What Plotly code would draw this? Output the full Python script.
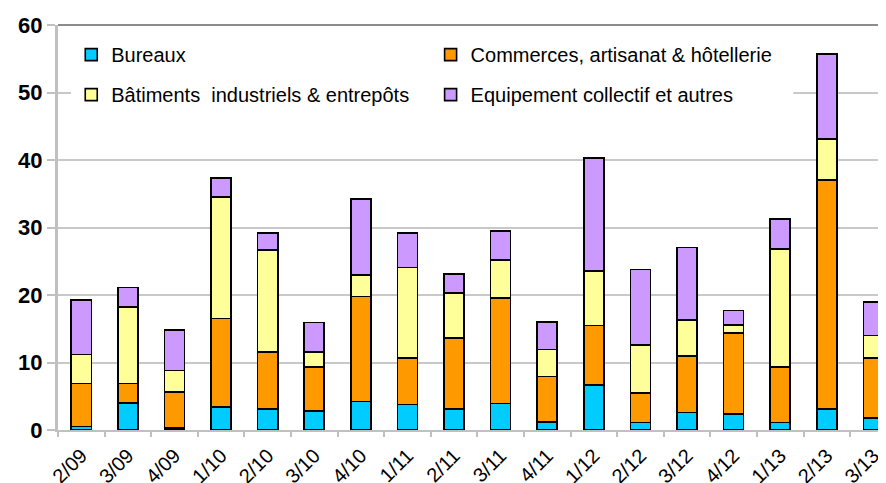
import plotly.graph_objects as go

categories = ["2/09", "3/09", "4/09", "1/10", "2/10", "3/10", "4/10", "1/11", "2/11",
              "3/11", "4/11", "1/12", "2/12", "3/12", "4/12", "1/13", "2/13", "3/13"]
bureaux = [0.5, 4.0, 0.3, 3.4, 3.1, 2.8, 4.2, 3.75, 3.1, 3.95, 1.2, 6.65, 1.1, 2.6, 2.4, 1.1, 3.1, 1.8]
commerces = [6.4, 2.9, 5.3, 13.1, 8.5, 6.5, 15.6, 6.9, 10.5, 15.6, 6.7, 8.85, 4.4, 8.35, 12.0, 8.25, 33.9, 8.9]
batiments = [4.3, 11.3, 3.2, 18.0, 15.1, 2.3, 3.2, 13.4, 6.7, 5.65, 4.05, 8.1, 7.1, 5.35, 1.15, 17.45, 6.15, 3.3]
equipement = [8.1, 2.9, 6.0, 2.8, 2.5, 4.35, 11.2, 5.15, 2.8, 4.3, 4.05, 16.7, 11.2, 10.75, 2.15, 4.5, 12.55, 5.0]

names = ["Bureaux", "Commerces, artisanat & hôtellerie",
         "Bâtiments  industriels & entrepôts", "Equipement collectif et autres"]
colors = ["#00CCFF", "#FF9900", "#FFFF99", "#CC99FF"]
series = [bureaux, commerces, batiments, equipement]
legends = ["legend", "legend2", "legend", "legend2"]

FONT = "Liberation Sans, Arial, sans-serif"

fig = go.Figure()
for i, (nm, col, vals, lg) in enumerate(zip(names, colors, series, legends)):
    fig.add_trace(go.Bar(
        x=categories, y=vals, name=nm, legend=lg, legendgroup=f"g{i}",
        marker=dict(color=col, line=dict(color="black", width=1.6)),
        width=0.43,
    ))

legend_common = dict(
    bgcolor="white", borderwidth=0, orientation="v",
    font=dict(family=FONT, size=20, color="black"),
    traceorder="grouped", tracegroupgap=11,
    xanchor="left", yanchor="top", y=0.975,
    itemwidth=30,
)

fig.update_layout(
    width=878, height=475,
    margin=dict(l=50, r=0, t=17, b=53, autoexpand=False),
    paper_bgcolor="white", plot_bgcolor="white",
    barmode="stack",
    font=dict(family=FONT, color="black"),
    legend=dict(x=0.016, **legend_common),
    legend2=dict(x=0.45, **legend_common),
    xaxis=dict(
        type="category", range=[-0.5, 17.27],
        showline=True, linecolor="#C0C0C0", linewidth=2,
        ticks="outside", tickson="boundaries", ticklen=5, tickcolor="#C0C0C0", tickwidth=2,
        tickangle=-45, tickfont=dict(family=FONT, size=20, color="black"),
        ticklabelstandoff=4,
        showgrid=False, automargin=False,
    ),
    yaxis=dict(
        range=[0, 60], dtick=10,
        showline=True, linecolor="#C0C0C0", linewidth=3,
        ticks="outside", ticklen=8, tickcolor="#C0C0C0", tickwidth=1.5,
        tickfont=dict(family=FONT, size=22, color="black", weight="bold"),
        showgrid=True, gridcolor="#C8C8C8", gridwidth=1.5,
        zeroline=False, automargin=False,
    ),
    shapes=[
        dict(type="line", xref="paper", yref="paper", x0=0, x1=1, y0=1, y1=1,
             line=dict(color="#8C8C8C", width=2), layer="above"),
        dict(type="rect", xref="paper", yref="paper", x0=0.023, x1=0.888,
             y0=0.81, y1=0.99, fillcolor="white", line=dict(width=0), layer="above"),
    ],
)

fig.write_html("out.html")
